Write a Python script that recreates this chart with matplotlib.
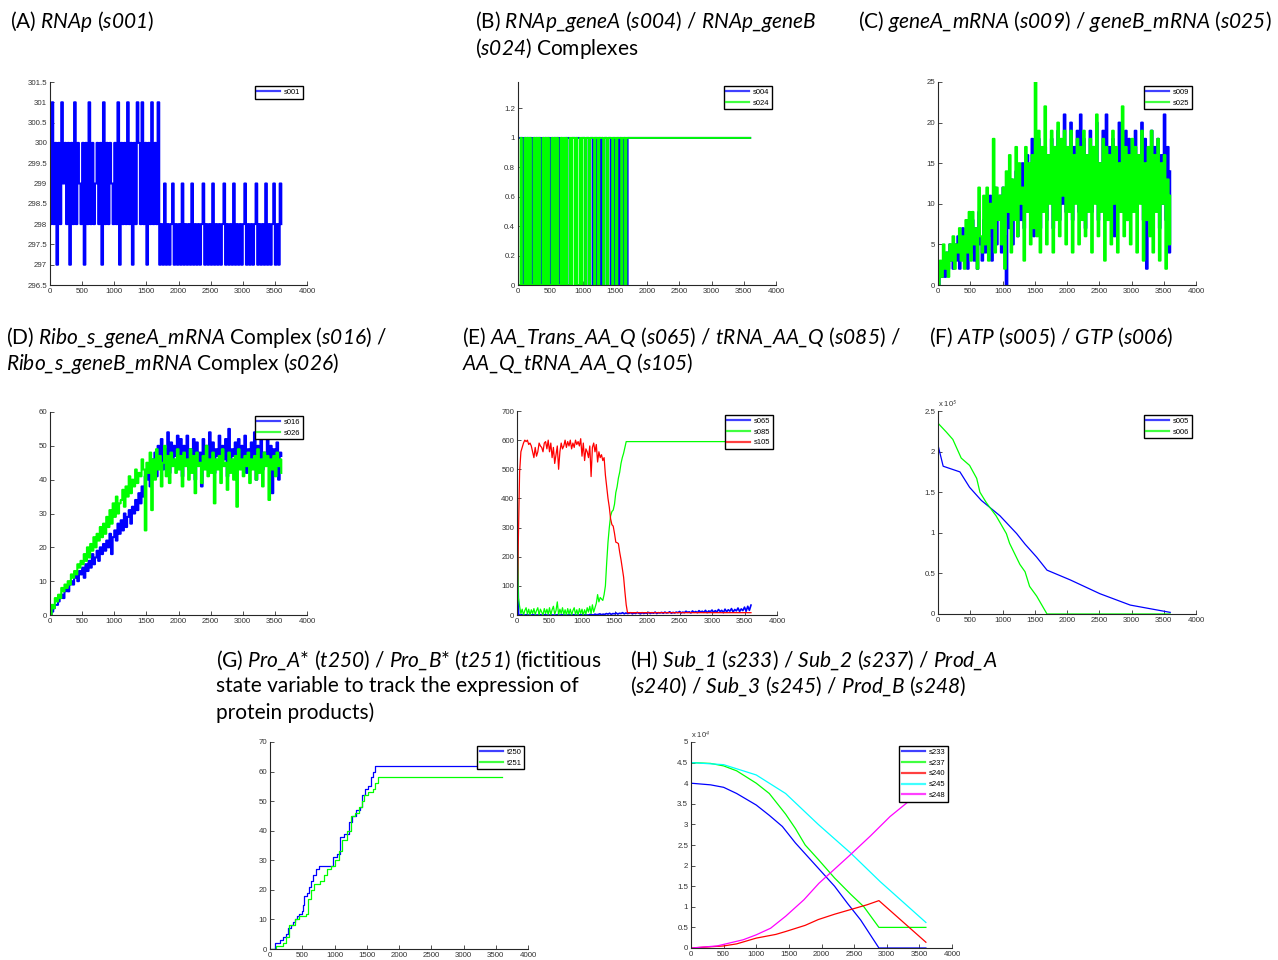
import numpy as np
import matplotlib
matplotlib.use('Agg')
from matplotlib import pyplot as plt
from matplotlib.ticker import FormatStrFormatter

# italic species names (digits included) inside $...$, upright text outside
plt.rcParams['mathtext.fontset'] = 'custom'
plt.rcParams['mathtext.rm'] = 'Lato:italic'
plt.rcParams['mathtext.it'] = 'Lato:italic'
# keep every jump of the stochastic traces
plt.rcParams['path.simplify'] = False

W, H = 1278, 960

# sample times (s)
t25 = np.arange(0, 3601, 25)
t20 = np.arange(0, 1701, 20)

# (A) RNAp
s001 = [298, 301, 298, 300, 297, 300, 298, 301, 299, 300,
        298, 300, 297, 300, 298, 301, 298, 300, 299, 298,
        300, 297, 300, 298, 301, 298, 300, 298, 299, 300,
        298, 300, 297, 301, 298, 300, 298, 300, 299, 298,
        300, 298, 301, 297, 300, 298, 300, 298, 301, 298,
        300, 297, 300, 298, 301, 300, 298, 301, 298, 300,
        297, 300, 298, 301, 298, 300, 298, 301,
        297, 298, 297, 299, 297, 298, 297, 298, 299, 297,
        298, 297, 298, 297, 299, 297, 298, 297, 298, 297,
        299, 297, 298, 297, 298, 297, 298, 299, 297, 298,
        297, 298, 297, 299, 297, 298, 297, 298, 297, 298,
        299, 297, 298, 297, 298, 297, 299, 297, 298, 297,
        298, 297, 298, 299, 297, 298, 297, 298, 297, 298,
        299, 297, 298, 297, 298, 297, 299, 297, 298, 297,
        298, 299, 297, 298, 297, 299, 298]

# (B) RNAp_geneA / RNAp_geneB complexes, every 20 s to 1700 s, then end value
s004 = [1, 1, 1, 1, 0, 1, 1, 1, 1, 1, 1, 0, 1, 1, 1, 1, 1, 1, 0, 1,
        1, 1, 1, 1, 1, 0, 1, 1, 1, 1, 1, 1, 0, 1,
        1, 0, 1, 1, 1, 1, 0, 1, 1, 1, 1, 1, 1, 1, 0, 1, 1,
        1, 0, 1, 1, 0, 1, 1, 0, 1, 1, 0, 1, 1, 0, 1, 0, 1, 1, 0, 1,
        1, 0, 1, 1, 0, 1, 1, 0, 1, 1, 0, 1, 1, 0, 1,
        1]
s024 = [0, 0, 1, 0, 0, 1, 0, 1, 0, 1, 0, 0, 1, 0, 1, 0, 1, 0, 0, 1,
        0, 1, 0, 1, 0, 0, 1, 0, 1, 0, 1, 0, 0, 1,
        0, 1, 0, 1, 0, 0, 1, 0, 1, 1, 0, 1, 0, 0, 1, 0, 1,
        1, 0, 1, 1, 0, 1, 1, 1, 0, 1, 1, 0, 1, 1, 1, 0, 1, 1, 0, 1,
        1, 1, 0, 1, 1, 0, 1, 1, 1, 0, 1, 1, 0, 1, 1,
        1]

# (C) geneA_mRNA / geneB_mRNA
s009 = [0, 2, 1, 3, 1, 4, 2, 5, 3, 2, 5, 3, 6, 2, 4, 7, 3, 5, 2, 6,
        4, 8, 3, 7, 2, 9, 5, 3, 8, 4, 10, 6, 11, 3, 8, 12, 5, 9, 11, 4,
        12, 6, 0, 11, 7, 13, 5, 10, 14, 6, 13, 8, 15, 7, 12, 16, 9, 14, 18, 6,
        15, 9, 18, 7, 14, 10, 17, 8, 16, 11, 18, 7, 15, 12, 19, 8, 17, 10, 21, 9,
        16, 11, 20, 8, 17, 12, 19, 9, 21, 10, 18, 7, 16, 12, 19, 9, 17, 11, 20, 8,
        15, 11, 19, 8, 21, 10, 17, 12, 18, 6, 16, 11, 20, 9, 17, 12, 19, 8, 18, 10,
        17, 11, 19, 9, 16, 12, 20, 8, 18, 2, 15, 11, 19, 9, 17, 12, 18, 7, 16, 10,
        21, 8, 17, 4, 14]
s025 = [0, 3, 1, 5, 2, 4, 1, 5, 3, 6, 2, 5, 4, 7, 3, 6, 2, 8, 4, 9,
        3, 9, 5, 7, 2, 12, 6, 4, 11, 5, 12, 3, 10, 7, 18, 4, 12, 8, 11, 5,
        12, 2, 14, 9, 16, 4, 13, 8, 17, 6, 15, 10, 12, 3, 17, 9, 15, 5, 16, 7,
        25, 6, 19, 4, 17, 9, 22, 5, 16, 10, 19, 4, 17, 8, 20, 6, 18, 11, 19, 5,
        17, 9, 19, 4, 16, 10, 18, 5, 17, 8, 19, 6, 16, 9, 18, 4, 17, 10, 21, 6,
        15, 9, 18, 3, 17, 8, 16, 5, 19, 10, 17, 4, 15, 9, 22, 6, 17, 8, 16, 5,
        18, 9, 17, 4, 16, 10, 19, 3, 15, 8, 17, 6, 19, 4, 16, 9, 18, 3, 15, 10,
        16, 2, 13, 5, 11]

# (D) ribosome complexes
s016 = [0, 1, 2, 3, 3, 4, 5, 6, 5, 7, 8, 7, 9, 10, 9, 11, 12, 10, 13, 12,
        14, 11, 15, 13, 16, 14, 18, 15, 17, 19, 16, 20, 18, 21, 19, 22, 20, 24, 18, 23,
        25, 22, 27, 24, 28, 25, 30, 26, 29, 31, 27, 32, 30, 34, 31, 36, 33, 38, 35, 41,
        40, 44, 38, 46, 42, 48, 41, 50, 44, 52, 43, 49, 46, 54, 42, 51, 45, 50, 47, 53,
        44, 52, 41, 50, 46, 53, 43, 49, 47, 52, 40, 51, 45, 48, 38, 52, 46, 50, 43, 54,
        45, 51, 42, 49, 47, 53, 44, 50, 46, 52, 41, 55, 44, 49, 47, 51, 43, 52, 45, 50,
        46, 53, 42, 49, 45, 51, 44, 54, 40, 50, 46, 52, 43, 48, 47, 53, 44, 50, 36, 49,
        45, 51, 40, 48, 47]
s026 = [0, 3, 2, 5, 4, 6, 5, 8, 7, 9, 8, 10, 9, 12, 11, 13, 12, 15, 14, 16,
        15, 18, 16, 20, 17, 21, 19, 23, 20, 24, 22, 26, 23, 27, 24, 29, 26, 31, 27, 33,
        29, 35, 30, 33, 34, 37, 32, 38, 35, 41, 36, 40, 38, 43, 39, 42, 41, 46, 43, 25,
        45, 42, 48, 31, 46, 40, 49, 43, 47, 38, 45, 50, 41, 47, 39, 48, 44, 46, 42, 49,
        43, 47, 38, 48, 44, 46, 40, 49, 42, 47, 36, 48, 44, 45, 39, 47, 43, 50, 41, 46,
        42, 48, 33, 46, 43, 47, 39, 49, 44, 45, 37, 48, 42, 46, 40, 47, 32, 49, 43, 46,
        41, 47, 44, 48, 39, 46, 43, 47, 40, 49, 42, 46, 38, 48, 44, 47, 34, 46, 43, 47,
        41, 48, 44, 46, 42]

# (E) AA_Trans_AA_Q (every 25 s), tRNA_AA_Q and AA_Q_tRNA_AA_Q (every 20 s to 1700 s, then end value)
s065 = [320, 0, 0, 1, 0, 0, 1, 0, 0, 0, 1, 0, 0, 0, 1, 0, 0, 1, 0, 0,
        0, 1, 0, 0, 0, 1, 0, 0, 1, 0, 0, 0, 1, 0, 0, 1, 0, 0, 0, 1,
        0, 0, 1, 0, 0, 2, 1, 0, 3, 1, 2, 4, 1, 3, 2, 5, 3, 6, 2, 5,
        4, 7, 3, 6, 5, 8, 4, 7, 5, 6, 8, 4, 7, 5, 9, 6, 4, 8, 5, 7,
        6, 9, 5, 8, 6, 10, 5, 8, 7, 9, 6, 10, 7, 8, 11, 6, 9, 7, 10, 8,
        12, 7, 10, 8, 13, 9, 11, 7, 14, 9, 12, 8, 15, 10, 13, 9, 16, 8, 14, 11,
        17, 9, 15, 10, 19, 12, 16, 8, 20, 11, 18, 13, 22, 10, 19, 14, 24, 12, 21, 15,
        27, 13, 30, 16, 34]
s085 = [600, 60, 30, 5, 20, 0, 15, 25, 3, 20,
        0, 18, 5, 22, 2, 15, 25, 0, 20, 10,
        0, 22, 5, 20, 2, 25, 0, 18, 30, 3,
        15, 45, 0, 20, 5, 25, 2, 18, 0, 22,
        3, 20, 0, 15, 25, 2, 18, 0, 22, 5,
        20, 0, 18, 3, 25, 10, 30, 5, 35, 10,
        25, 40, 70, 45, 60, 55, 50, 70, 100, 180,
        250, 300, 340, 355, 360, 380, 420, 440, 470, 490,
        520, 540, 555, 575, 595, 595,
        595]
s105 = [0, 250, 490, 560, 575, 590, 600, 595, 600, 585,
        590, 580, 560, 540, 575, 545, 560, 590, 580, 575,
        560, 590, 595, 570, 600, 560, 590, 540, 575, 520,
        550, 580, 500, 560, 590, 570, 580, 600, 575, 595,
        580, 600, 570, 590, 575, 600, 585, 595, 580, 605,
        545, 590, 530, 570, 560, 540, 580, 475, 575, 590,
        560, 585, 525, 560, 540, 550, 530, 540, 480, 440,
        400, 370, 330, 310, 305, 280, 250, 248, 245, 215,
        190, 160, 130, 80, 35, 8,
        8]

# (F) ATP / GTP
atp_t = [0, 80, 340, 490, 670, 960, 1220, 1350, 1530, 1690, 2050, 2510, 2980, 3600]
atp = [2.08e5, 1.82e5, 1.75e5, 1.56e5, 1.40e5, 1.21e5, 0.99e5, 0.86e5, 0.70e5,
       0.54e5, 0.42e5, 0.25e5, 0.11e5, 0.02e5]
gtp_t = [0, 130, 230, 360, 490, 600, 650, 750, 900, 1060, 1110, 1270, 1350, 1420,
         1530, 1690, 3600]
gtp = [2.35e5, 2.24e5, 2.15e5, 1.92e5, 1.83e5, 1.67e5, 1.50e5, 1.37e5, 1.21e5,
       0.99e5, 0.87e5, 0.61e5, 0.52e5, 0.34e5, 0.22e5, 0.0, 0.0]

# (G) Pro_A* / Pro_B* counters
t250_t = [0, 80, 150, 200, 250, 280, 320, 350, 380, 420, 450, 500, 510, 530, 570,
          600, 640, 660, 720, 760, 950, 970, 1040, 1080, 1150, 1230, 1270, 1330,
          1400, 1420, 1480, 1520, 1570, 1600, 1630, 3600]
t250 = [0, 2, 3, 4, 5, 7, 8, 9, 10, 11, 12, 13, 15, 18, 19, 21, 23, 25, 27, 28,
        28, 31, 32, 38, 39, 43, 45, 47, 48, 52, 54, 55, 58, 60, 62, 62]
t251_t = [0, 100, 200, 250, 300, 380, 450, 560, 590, 640, 680, 780, 830, 880, 950,
          1000, 1070, 1120, 1200, 1250, 1320, 1380, 1430, 1460, 1520, 1590, 1630,
          1680, 3600]
t251 = [0, 1, 2, 4, 8, 10, 11, 12, 17, 20, 22, 23, 25, 27, 28, 30, 33, 37, 40, 45,
        46, 48, 50, 52, 53, 54, 56, 58, 58]

# (H) substrates and products
sub_t = [0, 300, 500, 700, 1000, 1200, 1400, 1600, 1800, 2000, 2200, 2400, 2600,
         2880, 3600]
s233 = [4.0e4, 3.96e4, 3.9e4, 3.75e4, 3.47e4, 3.22e4, 2.95e4, 2.55e4, 2.2e4,
        1.85e4, 1.5e4, 1.08e4, 0.68e4, 0.0, 0.0]
s237_t = [0, 300, 500, 700, 1000, 1200, 1450, 1600, 1750, 1950, 2200, 2450, 2650,
          2880, 3600]
s237 = [4.5e4, 4.48e4, 4.42e4, 4.3e4, 4.0e4, 3.75e4, 3.25e4, 2.9e4, 2.5e4,
        2.15e4, 1.7e4, 1.3e4, 1.0e4, 0.5e4, 0.5e4]
s245_t = [0, 500, 1000, 1450, 1950, 2450, 2900, 3600]
s245 = [4.5e4, 4.45e4, 4.2e4, 3.75e4, 3.0e4, 2.3e4, 1.61e4, 0.62e4]
s240_t = [0, 500, 700, 1000, 1300, 1450, 1750, 1950, 2200, 2440, 2700, 2880, 3600]
s240 = [0.0, 0.05e4, 0.1e4, 0.24e4, 0.33e4, 0.4e4, 0.55e4, 0.69e4, 0.82e4,
        0.93e4, 1.05e4, 1.15e4, 0.14e4]
s248_t = [0, 400, 800, 1000, 1220, 1450, 1730, 1960, 2190, 2440, 2750, 3050, 3360, 3600]
s248 = [0.0, 0.05e4, 0.2e4, 0.32e4, 0.48e4, 0.77e4, 1.17e4, 1.57e4, 1.9e4,
        2.26e4, 2.72e4, 3.19e4, 3.59e4, 3.95e4]

fig = plt.figure(figsize=(W / 100, H / 100), dpi=100)
tick_font = 'Liberation Sans'


def make_axes(left, right, top, bottom):
    ax = fig.add_axes([left / W, 1 - bottom / H, (right - left) / W, (bottom - top) / H])
    for side in ['top', 'right']:
        ax.spines[side].set_visible(False)
    for side in ['left', 'bottom']:
        ax.spines[side].set_color('#262626')
        ax.spines[side].set_linewidth(0.8)
    ax.tick_params(direction='in', length=3, width=0.6, labelsize=5.7,
                   colors='#333333', pad=2)
    for lab in ax.get_xticklabels() + ax.get_yticklabels():
        lab.set_family(tick_font)
    ax.set_xlim(0, 4000)
    ax.set_xticks(np.arange(0, 4001, 500))
    ax.yaxis.set_major_formatter(FormatStrFormatter('%g'))
    return ax


def legend(ax):
    leg = ax.legend(loc='upper right', prop={'family': tick_font, 'size': 5.5},
                    handlelength=3.0, fancybox=False, edgecolor='black',
                    framealpha=1, borderpad=0.35, labelspacing=0.45,
                    handletextpad=0.5, borderaxespad=0.5)
    leg.get_frame().set_linewidth(1.0)
    for line in leg.get_lines():
        line.set_linewidth(1.6)
        line.set_alpha(0.75)
        line.set_drawstyle('default')


def title(x, y, lines):
    for i, s in enumerate(lines):
        fig.text(x / W, 1 - (y + 26.5 * i) / H, s, fontsize=15, family='Lato',
                 va='center', ha='left', color='black')


lw = 0.9
lw_noisy = 1.5
blue, green, red = '#0000ff', '#00ff00', '#ff0000'
steps = 'steps-post'

# (A)
ax = make_axes(50, 307, 82, 285)
ax.plot(t25, s001, color=blue, lw=lw_noisy, drawstyle=steps, snap=False, label='s001')
ax.set_ylim(296.5, 301.5)
ax.set_yticks(np.arange(296.5, 301.6, 0.5))
legend(ax)

# (B)
ax = make_axes(518, 776, 82, 285)
tb = np.append(t20, 3600)
ax.plot(tb, s004, color=blue, lw=1.4, drawstyle=steps, snap=False, label='s004')
ax.plot(tb, s024, color=green, lw=1.4, drawstyle=steps, snap=False, label='s024')
ax.set_ylim(0, 1.38)
ax.set_yticks(np.arange(0, 1.21, 0.2))
legend(ax)

# (C)
ax = make_axes(938, 1196, 82, 285)
ax.plot(t25, s009, color=blue, lw=lw_noisy, drawstyle=steps, snap=False, label='s009')
ax.plot(t25, s025, color=green, lw=lw_noisy, drawstyle=steps, snap=False, label='s025')
ax.set_ylim(0, 25)
ax.set_yticks(np.arange(0, 26, 5))
legend(ax)

# (D)
ax = make_axes(50, 307, 412, 615)
ax.plot(t25, s016, color=blue, lw=lw_noisy, drawstyle=steps, snap=False, label='s016')
ax.plot(t25, s026, color=green, lw=lw_noisy, drawstyle=steps, snap=False, label='s026')
ax.set_ylim(0, 60)
ax.set_yticks(np.arange(0, 61, 10))
legend(ax)

# (E)
ax = make_axes(517, 777, 411, 615)
ax.plot(t25, s065, color=blue, lw=1.2, label='s065')
ax.plot(tb, s085, color=green, lw=lw, label='s085')
ax.plot(tb, s105, color=red, lw=lw, label='s105')
ax.set_ylim(0, 700)
ax.set_yticks(np.arange(0, 701, 100))
legend(ax)

# (F)
ax = make_axes(938, 1196, 411, 614)
ax.plot(atp_t, np.array(atp) / 1e5, color=blue, lw=lw, label='s005')
ax.plot(gtp_t, np.array(gtp) / 1e5, color=green, lw=lw, label='s006')
ax.set_ylim(0, 2.5)
ax.set_yticks(np.arange(0, 2.51, 0.5))
ax.text(0, 1.01, r'x 10$^5$', transform=ax.transAxes, fontsize=5.5,
        family=tick_font, color='#333333', va='bottom')
legend(ax)

# (G)
ax = make_axes(270, 528, 742, 949)
ax.plot(t250_t, t250, color=blue, lw=lw, drawstyle=steps, label='t250')
ax.plot(t251_t, t251, color=green, lw=lw, drawstyle=steps, label='t251')
ax.set_ylim(0, 70)
ax.set_yticks(np.arange(0, 71, 10))
legend(ax)

# (H)
ax = make_axes(691, 952, 742, 948)
ax.plot(sub_t, np.array(s233) / 1e4, color=blue, lw=lw, label='s233')
ax.plot(s237_t, np.array(s237) / 1e4, color=green, lw=lw, label='s237')
ax.plot(s240_t, np.array(s240) / 1e4, color=red, lw=lw, label='s240')
ax.plot(s245_t, np.array(s245) / 1e4, color='#00ffff', lw=lw, label='s245')
ax.plot(s248_t, np.array(s248) / 1e4, color='#ff00ff', lw=lw, label='s248')
ax.set_ylim(0, 5)
ax.set_yticks(np.arange(0, 5.01, 0.5))
ax.text(0, 1.01, r'x 10$^4$', transform=ax.transAxes, fontsize=5.5,
        family=tick_font, color='#333333', va='bottom')
legend(ax)

# panel captions
title(10, 22, [r'(A) $\mathit{RNAp}$ ($\mathit{s001}$)'])
title(475, 22, [r'(B) $\mathit{RNAp\_geneA}$ ($\mathit{s004}$) / $\mathit{RNAp\_geneB}$',
                r'($\mathit{s024}$) Complexes'])
title(858, 22, [r'(C) $\mathit{geneA\_mRNA}$ ($\mathit{s009}$) / $\mathit{geneB\_mRNA}$ ($\mathit{s025}$)'])
title(6, 337, [r'(D) $\mathit{Ribo\_s\_geneA\_mRNA}$ Complex ($\mathit{s016}$) /',
               r'$\mathit{Ribo\_s\_geneB\_mRNA}$ Complex ($\mathit{s026}$)'])
title(462, 337, [r'(E) $\mathit{AA\_Trans\_AA\_Q}$ ($\mathit{s065}$) / $\mathit{tRNA\_AA\_Q}$ ($\mathit{s085}$) /',
                 r'$\mathit{AA\_Q\_tRNA\_AA\_Q}$ ($\mathit{s105}$)'])
title(929, 337, [r'(F) $\mathit{ATP}$ ($\mathit{s005}$) / $\mathit{GTP}$ ($\mathit{s006}$)'])
title(216, 660, [r'(G) $\mathit{Pro\_A}$* ($\mathit{t250}$) / $\mathit{Pro\_B}$* ($\mathit{t251}$) (fictitious',
                 'state variable to track the expression of',
                 'protein products)'])
title(630, 660, [r'(H) $\mathit{Sub\_1}$ ($\mathit{s233}$) / $\mathit{Sub\_2}$ ($\mathit{s237}$) / $\mathit{Prod\_A}$',
                 r'($\mathit{s240}$) / $\mathit{Sub\_3}$ ($\mathit{s245}$) / $\mathit{Prod\_B}$ ($\mathit{s248}$)'])

plt.savefig('out.png', dpi=100)
